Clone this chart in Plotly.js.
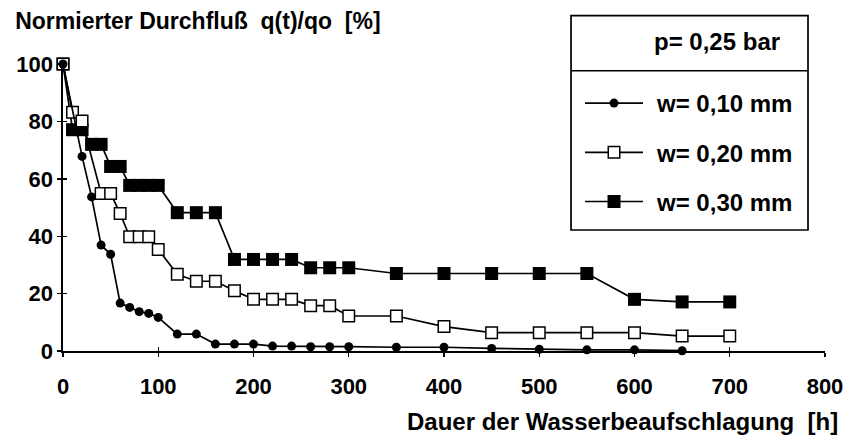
<!DOCTYPE html>
<html>
<head>
<meta charset="utf-8">
<script src="https://cdn.plot.ly/plotly-3.0.1.min.js"></script>
<style>html,body{margin:0;padding:0;background:#fff;}</style>
</head>
<body>
<div id="chart" style="width:845px;height:443px;"></div>
<script>
// ---- data ----
const hours10 = [0,20,30,40,50,60,70,80,90,100,120,140,160,180,200,220,240,260,280,300,350,400,450,500,550,600,650];
const flow10  = [100,67.8,53.7,36.9,33.7,16.7,15.2,13.7,13.1,11.7,5.9,5.9,2.4,2.4,2.4,1.7,1.7,1.5,1.5,1.5,1.3,1.3,0.9,0.6,0.4,0.4,0.1];

const hours20 = [0,10,20,40,50,60,70,80,90,100,120,140,160,180,200,220,240,260,280,300,350,400,450,500,550,600,650,700];
const flow20  = [100,83.2,80.1,54.9,54.9,47.9,39.8,39.8,39.8,35.4,26.7,24.3,24.3,21,18,18,18,15.8,15.8,12.2,12.2,8.5,6.4,6.4,6.4,6.4,5.2,5.2];

const hours30 = [0,10,20,30,40,50,60,70,80,90,100,120,140,160,180,200,220,240,260,280,300,350,400,450,500,550,600,650,700];
const flow30  = [100,77.1,77.1,72,72,64.3,64.3,57.7,57.7,57.7,57.7,48.2,48.2,48.2,31.9,31.9,31.9,31.9,29,29,29,27,27,27,27,27,18,17.1,17.1];

const seriesNames = ["w= 0,10 mm", "w= 0,20 mm", "w= 0,30 mm"];
const legendTitle = "p= 0,25 bar";
const yTitle = "Normierter Durchfluß\u00a0 q(t)/qo\u00a0 [%]";
const xTitle = "Dauer der Wasserbeaufschlagung\u00a0 [h]";

// ---- styling ----
const FONT = "Liberation Sans, Arial, Helvetica, sans-serif";
const txt = (size) => ({family: FONT, size: size, color: "#000", weight: "bold"});
const lineStyle = {color: "#000", width: 1.7};

const traces = [
  {x: hours30, y: flow30, name: seriesNames[2], mode: "lines+markers", line: lineStyle, legendrank: 3, legendgroup: "c",
   marker: {symbol: "square", size: 13, color: "#000"}, cliponaxis: false},
  {x: hours20, y: flow20, name: seriesNames[1], mode: "lines+markers", line: lineStyle, legendrank: 2, legendgroup: "b",
   marker: {symbol: "square", size: 11.5, color: "#fff", line: {color: "#000", width: 1.5}}, cliponaxis: false},
  {x: hours10, y: flow10, name: seriesNames[0], mode: "lines+markers", line: lineStyle, legendrank: 1, legendgroup: "a",
   marker: {symbol: "circle", size: 9, color: "#000"}, cliponaxis: false},
  {x: [], y: [], xaxis: "x2", yaxis: "y2", showlegend: false, hoverinfo: "skip"}
];

const axisCommon = {showgrid: false, zeroline: false, showline: true, linecolor: "#000", linewidth: 1.7,
  ticks: "outside", ticklen: 4, tickwidth: 1.4, tickcolor: "#000", tickfont: txt(22)};
const innerTicks = {ticks: "inside", ticklen: 4, tickwidth: 1.4, tickcolor: "#000", showticklabels: false,
  showgrid: false, zeroline: false, showline: false};

// legend box geometry (paper fractions of the plot area)
const boxX0 = 0.6667, boxX1 = 0.9777, boxY0 = 0.4216, boxY1 = 1.1683, dividerY = 0.9767;

const layout = {
  width: 845, height: 443,
  margin: {l: 63, r: 20, t: 64, b: 92},
  paper_bgcolor: "#fff", plot_bgcolor: "#fff",
  font: txt(22),
  showlegend: true,
  title: {text: yTitle, font: txt(23), x: 0.018, xanchor: "left", y: 0.953, yanchor: "middle", xref: "container", yref: "container"},
  xaxis: Object.assign({}, axisCommon, {range: [0, 800], tick0: 0, dtick: 100, ticklabelstandoff: 11}),
  yaxis: Object.assign({}, axisCommon, {range: [0, 100], tick0: 0, dtick: 20, ticklabelstandoff: 0}),
  xaxis2: Object.assign({overlaying: "x", anchor: "y2", range: [0, 800], tick0: 0, dtick: 100}, innerTicks),
  yaxis2: Object.assign({overlaying: "y", anchor: "x2", range: [0, 100], tick0: 0, dtick: 20}, innerTicks),
  legend: {x: 0.6785, y: 0.9407, xanchor: "left", yanchor: "top", bgcolor: "rgba(0,0,0,0)", borderwidth: 0,
    traceorder: "grouped", tracegroupgap: 15, font: txt(24), itemwidth: 67},
  shapes: [
    {type: "rect", xref: "paper", yref: "paper", x0: boxX0, x1: boxX1, y0: boxY0, y1: boxY1,
     line: {color: "#000", width: 1.7}, fillcolor: "rgba(0,0,0,0)", layer: "above"},
    {type: "line", xref: "paper", yref: "paper", x0: boxX0, x1: boxX1, y0: dividerY, y1: dividerY,
     line: {color: "#000", width: 1.4}, layer: "above"}
  ],
  annotations: [
    {text: legendTitle, xref: "paper", yref: "paper", x: 0.9436, y: 1.0767, xanchor: "right", yanchor: "middle",
     showarrow: false, font: txt(24)},
    {text: xTitle, xref: "paper", yref: "paper", x: 1.0197, y: -0.245, xanchor: "right", yanchor: "middle",
     showarrow: false, font: txt(24)}
  ]
};

Plotly.newPlot("chart", traces, layout, {staticPlot: true, displayModeBar: false}).then(function (gd) {
  // longer legend line samples, marker centred on them
  gd.querySelectorAll(".legend .traces").forEach(function (tr) {
    tr.querySelectorAll("path.js-line").forEach(function (p) { p.setAttribute("d", "M5,0h58"); });
    tr.querySelectorAll(".legendpoints path").forEach(function (p) { p.setAttribute("transform", "translate(34,0)"); });
  });
});
</script>
</body>
</html>
